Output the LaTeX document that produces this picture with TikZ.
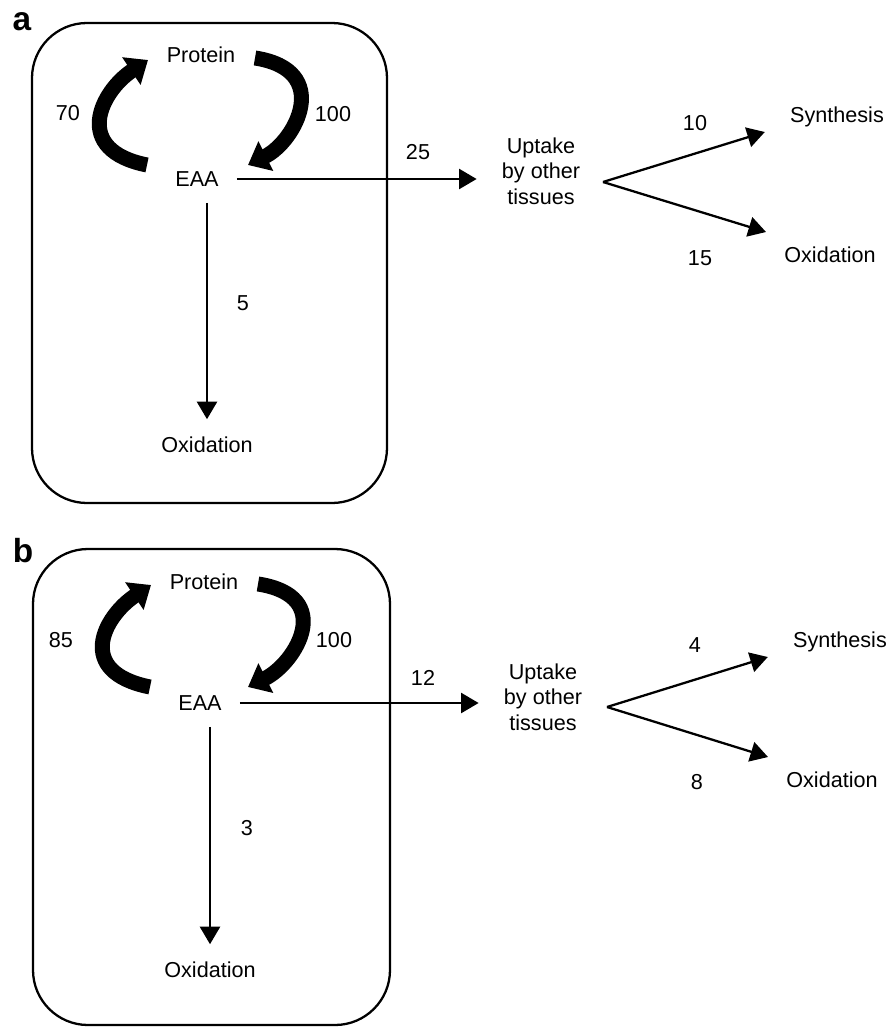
\documentclass[tikz,border=0pt]{standalone}
\usepackage{fontspec}
\setmainfont{Liberation Sans}
\usetikzlibrary{arrows.meta, positioning}

\begin{document}
\begin{tikzpicture}
	[
	x=0.02cm, y=-0.02cm,
        caja/.style={
            rounded corners=1.1cm,
            line width=1.3pt
        },
        texto/.style={
            inner sep=0pt,
            align=center,
            font=\fontsize{12.3}{14.4}\selectfont
        },
        letra/.style={
            inner sep=0pt,
            font=\fontsize{19}{22}\selectfont\bfseries
        },
        flechaFina/.style={
            -{Triangle[length=0.35cm, width=0.4cm]},
            line width=1.3pt
        },
        flechaGruesa/.style={
            -{Triangle[length=0.4cm, width=0.64cm]},
            line width=0.3cm
        }
    ]
    \useasboundingbox (0,0) rectangle (889,1028);

    % panel a
    \node(letraA) [letra] at (22,22) {a};
    \draw[caja] (32,23) rectangle (387,503);
    \node(proteinaA) [texto] at (201,55) {Protein};
    \node(eaaA) [texto] at (197,179) {EAA};
    \node(oxidacionA) [texto] at (207,445) {Oxidation};
    \node(captacionA) [texto] at (541,171) {Uptake\\by other\\tissues};
    \node(sintesisA) [texto] at (837,117) {Synthesis};
    \node(oxidacionOtrosA) [texto] at (830,255) {Oxidation};
    \coordinate(ramaA) at (603,182);

    \node(valor70) [texto] at (68,113) {70};
    \node(valor100A) [texto] at (333,114) {100};
    \node(valor25) [texto] at (418,152) {25};
    \node(valor10) [texto] at (695,123) {10};
    \node(valor15) [texto] at (700,258) {15};
    \node(valor5) [texto] at (243,303) {5};

    \draw[flechaGruesa] ([shift={(-50,-14)}]eaaA.center) .. controls +(-75,-15) and +(-48,32) .. ([shift={(-53,5)}]proteinaA.center);
    \draw[flechaGruesa] ([shift={(54,3)}]proteinaA.center) .. controls +(78,12) and +(48,-24) .. ([shift={(51,-14)}]eaaA.center);
    \draw[flechaFina, shorten <=0.36cm, shorten >=0.5cm] (eaaA.east) -- (eaaA.east -| captacionA.west);
    \draw[flechaFina, shorten <=0.32cm, shorten >=0.35cm] (eaaA.south -| oxidacionA) -- (oxidacionA.north);
    \draw[flechaFina] (ramaA) -- ([shift={(-25,15)}]sintesisA.west);
    \draw[flechaFina] (ramaA) -- ([shift={(-18,-23)}]oxidacionOtrosA.west);

    % panel b
    \node(letraB) [letra] at (23,551) {b};
    \draw[caja] (33,549) rectangle (390,1025);
    \node(proteinaB) [texto] at (204,582) {Protein};
    \node(eaaB) [texto] at (200,703) {EAA};
    \node(oxidacionB) [texto] at (210,970) {Oxidation};
    \node(captacionB) [texto] at (543,697) {Uptake\\by other\\tissues};
    \node(sintesisB) [texto] at (840,642) {Synthesis};
    \node(oxidacionOtrosB) [texto] at (832,780) {Oxidation};
    \coordinate(ramaB) at (607,707);

    \node(valor85) [texto] at (61,640) {85};
    \node(valor100B) [texto] at (334,640) {100};
    \node(valor12) [texto] at (423,678) {12};
    \node(valor4) [texto] at (695,645) {4};
    \node(valor8) [texto] at (697,782) {8};
    \node(valor3) [texto] at (247,828) {3};

    \draw[flechaGruesa] ([shift={(-50,-16)}]eaaB.center) .. controls +(-75,-15) and +(-48,32) .. ([shift={(-53,3)}]proteinaB.center);
    \draw[flechaGruesa] ([shift={(54,2)}]proteinaB.center) .. controls +(78,12) and +(48,-24) .. ([shift={(48,-16)}]eaaB.center);
    \draw[flechaFina, shorten <=0.36cm, shorten >=0.5cm] (eaaB.east) -- (eaaB.east -| captacionB.west);
    \draw[flechaFina, shorten <=0.32cm, shorten >=0.35cm] (eaaB.south -| oxidacionB) -- (oxidacionB.north);
    \draw[flechaFina] (ramaB) -- ([shift={(-25,15)}]sintesisB.west);
    \draw[flechaFina] (ramaB) -- ([shift={(-18,-23)}]oxidacionOtrosB.west);
\end{tikzpicture}
\end{document}
